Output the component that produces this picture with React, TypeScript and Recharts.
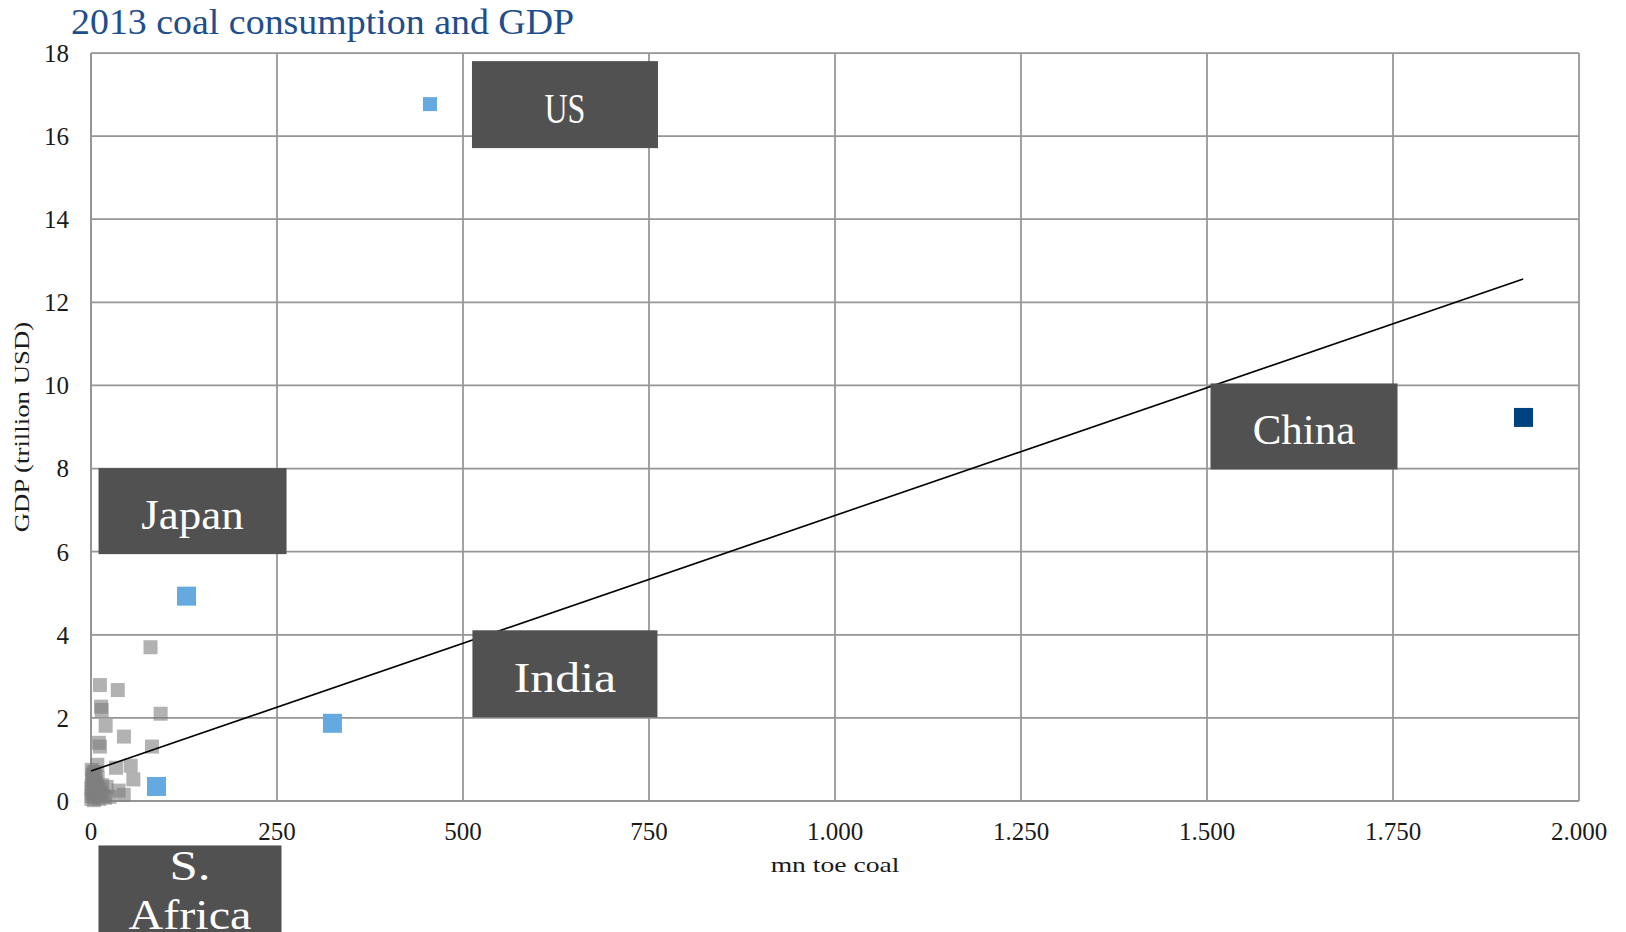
import React from 'react';
import { ScatterChart, Scatter, XAxis, YAxis, CartesianGrid } from 'recharts';

// ---------- data ----------
const X_TICKS = [0, 250, 500, 750, 1000, 1250, 1500, 1750, 2000];
const Y_TICKS = [0, 2, 4, 6, 8, 10, 12, 14, 16, 18];

const HIGHLIGHT_NAMES = ['US', 'China', 'Japan', 'India', 'S. Africa'];
const HIGHLIGHT_COAL = [455.6, 1925.4, 128.4, 324.5, 88.0];
const HIGHLIGHT_GDP = [16.77, 9.23, 4.93, 1.87, 0.35];

const OTHER_COAL = [
  80, 12, 36, 13.5, 14.4, 19.7, 93.6, 44.3, 10.5, 12, 82, 8.5, 33.6, 53.3, 56.9, 37, 44, 21,
  1, 2, 3, 1, 4, 2, 5, 0.5, 6, 8, 3, 7, 10, 9, 12, 1, 4, 15, 17, 6, 0.5, 11, 14, 2, 5, 25, 19,
];
const OTHER_GDP = [
  3.7, 2.79, 2.67, 2.27, 2.19, 1.81, 2.1, 1.55, 1.4, 1.31, 1.31, 0.87, 0.8, 0.85, 0.52, 0.25, 0.15, 0.34,
  0.75, 0.62, 0.5, 0.4, 0.3, 0.2, 0.1, 0.05, 0.45, 0.35, 0.68, 0.22, 0.15, 0.55, 0.28, 0.12, 0.02, 0.38, 0.12, 0.6, 0.3, 0.05, 0.2, 0.52, 0.7, 0.1, 0.08,
];

const TREND_COAL = [0, 1925];
const TREND_GDP = [0.72, 12.56];

const TITLE = '2013 coal consumption and GDP';
const X_LABEL = 'mn toe coal';
const Y_LABEL = 'GDP (trillion USD)';

// ---------- layout / style ----------
const FONT = "'Liberation Serif', 'DejaVu Serif', serif";
const GRID = '#959595';

const MARKER_STYLE: Record<string, { size: number; fill: string }> = {
  US: { size: 14, fill: '#64A9E0' },
  China: { size: 19, fill: '#00427F' },
  Japan: { size: 19, fill: '#64A9E0' },
  India: { size: 19, fill: '#64A9E0' },
  'S. Africa': { size: 19, fill: '#64A9E0' },
};

const LABEL_LAYOUT: Record<string, { dx: number; dy: number; w: number; h: number; lines: string[]; base: number[] }> = {
  US: { dx: 42, dy: -43, w: 186, h: 87, lines: ['US'], base: [62] },
  China: { dx: -313, dy: -34, w: 187, h: 86, lines: ['China'], base: [61] },
  Japan: { dx: -88, dy: -128, w: 188, h: 86, lines: ['Japan'], base: [61] },
  India: { dx: 140, dy: -93, w: 185, h: 87, lines: ['India'], base: [62] },
  'S. Africa': { dx: -58, dy: 59, w: 183, h: 100, lines: ['S.', 'Africa'], base: [35, 84] },
};

const highlightData = HIGHLIGHT_NAMES.map((name, i) => ({ name, coal: HIGHLIGHT_COAL[i], gdp: HIGHLIGHT_GDP[i] }));
const otherData = OTHER_COAL.map((c, i) => ({ coal: c, gdp: OTHER_GDP[i] }));
const trendData = TREND_COAL.map((c, i) => ({ coal: c, gdp: TREND_GDP[i] }));

const fmtX = (v: number) =>
  v >= 1000 ? `${Math.floor(v / 1000)}.${String(v % 1000).padStart(3, '0')}` : String(v);

const MonoText = ({ x, y, text, size, charW, fill, anchor = 'middle', transform }: any) => (
  <text
    x={x}
    y={y}
    fontSize={size}
    fontFamily={FONT}
    fill={fill}
    textAnchor={anchor}
    textLength={text.length * charW}
    lengthAdjust="spacingAndGlyphs"
    transform={transform}
  >
    {text}
  </text>
);

const GrayShape = (props: any) => {
  const { cx, cy } = props;
  if (cx == null || cy == null) return <g />;
  return <rect x={cx - 7} y={cy - 7} width={14} height={14} fill="#7F7F7F" fillOpacity={0.6} />;
};

const EmptyShape = () => <g />;

const HighlightShape = (props: any) => {
  const { cx, cy, payload } = props;
  if (cx == null || cy == null) return <g />;
  const st = MARKER_STYLE[payload.name];
  const lay = LABEL_LAYOUT[payload.name];
  const bx = cx + lay.dx;
  const by = cy + lay.dy;
  return (
    <g>
      <rect x={cx - st.size / 2} y={cy - st.size / 2} width={st.size} height={st.size} fill={st.fill} />
      <rect x={bx} y={by} width={lay.w} height={lay.h} fill="#515151" />
      {lay.lines.map((ln, i) => (
        <MonoText key={i} x={bx + lay.w / 2} y={by + lay.base[i]} text={ln} size={42} charW={20.5} fill="#FFFFFF" />
      ))}
    </g>
  );
};

const XLabel = (props: any) => {
  const vb = props.viewBox || {};
  return <MonoText x={vb.x + vb.width / 2} y={vb.y + 71} text={X_LABEL} size={22} charW={11.7} fill="#1a1a1a" />;
};

const YLabel = (props: any) => {
  const vb = props.viewBox || {};
  const x = vb.x - 2;
  const y = vb.y + vb.height / 2;
  return (
    <MonoText x={x} y={y} text={Y_LABEL} size={20} charW={11.7} fill="#1a1a1a" transform={`rotate(-90, ${x}, ${y})`} />
  );
};

export default function App() {
  return (
    <div style={{ position: 'absolute', left: 0, top: 0, width: 1626, height: 932, background: '#fff', overflow: 'hidden' }}>
      <svg width={1626} height={50} style={{ position: 'absolute', left: 0, top: 0, pointerEvents: 'none', zIndex: 2 }}>
        <MonoText x={71} y={34} text={TITLE} size={35} charW={17.35} fill="#1F4E8C" anchor="start" />
      </svg>
      <ScatterChart width={1626} height={932} margin={{ top: 53, right: 47, bottom: 71, left: 31 }}>
        <CartesianGrid stroke={GRID} strokeWidth={1.75} />
        <XAxis
          type="number"
          dataKey="coal"
          domain={[0, 2000]}
          ticks={X_TICKS}
          interval={0}
          tickFormatter={fmtX}
          height={60}
          tickSize={0}
          tickMargin={21}
          axisLine={{ stroke: GRID, strokeWidth: 2 }}
          tickLine={false}
          tick={{ fontSize: 25, fontFamily: FONT, fill: '#1a1a1a' }}
          label={<XLabel />}
          allowDataOverflow={false}
        />
        <YAxis
          type="number"
          dataKey="gdp"
          domain={[0, 18]}
          ticks={Y_TICKS}
          interval={0}
          width={60}
          tickSize={0}
          tickMargin={22}
          axisLine={{ stroke: GRID, strokeWidth: 1.75 }}
          tickLine={false}
          tick={{ fontSize: 25, fontFamily: FONT, fill: '#1a1a1a' }}
          label={<YLabel />}
        />
        <Scatter data={otherData} shape={GrayShape} isAnimationActive={false} />
        <Scatter
          data={trendData}
          shape={EmptyShape}
          line={{ stroke: '#000000', strokeWidth: 1.6 }}
          lineType="joint"
          isAnimationActive={false}
        />
        <Scatter data={highlightData} shape={HighlightShape} isAnimationActive={false} />
      </ScatterChart>
    </div>
  );
}
